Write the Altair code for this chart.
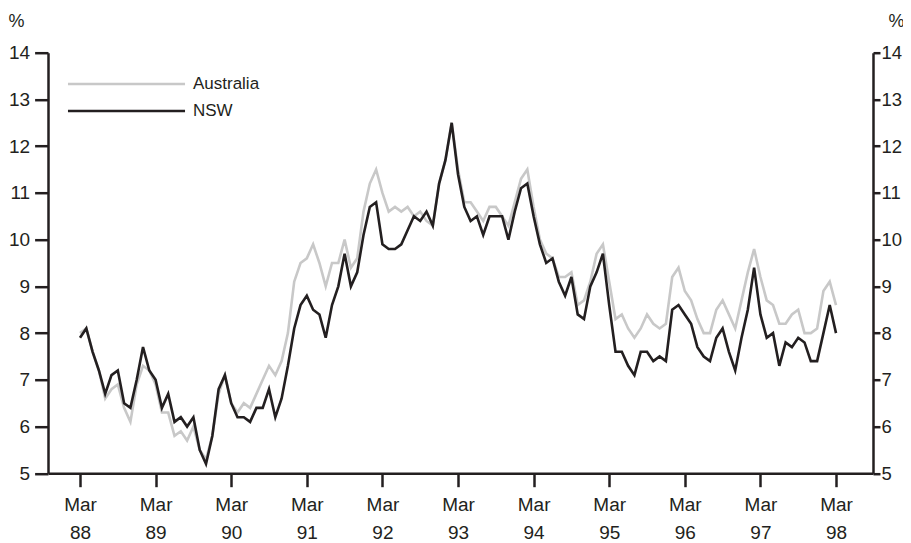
import altair as alt
import pandas as pd

# Monthly unemployment rate, Mar 1988 .. Mar 1998 (121 months)
months = list(range(121))
australia = [
    8.0, 8.1, 7.6, 7.2, 6.6, 6.8, 6.9, 6.4, 6.1, 6.9, 7.3, 7.2,
    6.9, 6.3, 6.3, 5.8, 5.9, 5.7, 6.0, 5.5, 5.3, 5.8, 6.7, 7.1,
    6.5, 6.3, 6.5, 6.4, 6.7, 7.0, 7.3, 7.1, 7.4, 8.0, 9.1, 9.5,
    9.6, 9.9, 9.5, 9.0, 9.5, 9.5, 10.0, 9.4, 9.6, 10.6, 11.2, 11.5,
    11.0, 10.6, 10.7, 10.6, 10.7, 10.5, 10.6, 10.4, 10.3, 11.2, 11.7, 12.5,
    11.5, 10.8, 10.8, 10.6, 10.4, 10.7, 10.7, 10.5, 10.3, 10.8, 11.3, 11.5,
    10.7, 10.0, 9.7, 9.6, 9.2, 9.2, 9.3, 8.6, 8.7, 9.1, 9.7, 9.9,
    9.1, 8.3, 8.4, 8.1, 7.9, 8.1, 8.4, 8.2, 8.1, 8.2, 9.2, 9.4,
    8.9, 8.7, 8.3, 8.0, 8.0, 8.5, 8.7, 8.4, 8.1, 8.7, 9.3, 9.8,
    9.2, 8.7, 8.6, 8.2, 8.2, 8.4, 8.5, 8.0, 8.0, 8.1, 8.9, 9.1,
    8.6,
]
nsw = [
    7.9, 8.1, 7.6, 7.2, 6.7, 7.1, 7.2, 6.5, 6.4, 7.0, 7.7, 7.2,
    7.0, 6.4, 6.7, 6.1, 6.2, 6.0, 6.2, 5.5, 5.2, 5.8, 6.8, 7.1,
    6.5, 6.2, 6.2, 6.1, 6.4, 6.4, 6.8, 6.2, 6.6, 7.3, 8.1, 8.6,
    8.8, 8.5, 8.4, 7.9, 8.6, 9.0, 9.7, 9.0, 9.3, 10.1, 10.7, 10.8,
    9.9, 9.8, 9.8, 9.9, 10.2, 10.5, 10.4, 10.6, 10.3, 11.2, 11.7, 12.5,
    11.4, 10.7, 10.4, 10.5, 10.1, 10.5, 10.5, 10.5, 10.0, 10.6, 11.1, 11.2,
    10.5, 9.9, 9.5, 9.6, 9.1, 8.8, 9.2, 8.4, 8.3, 9.0, 9.3, 9.7,
    8.6, 7.6, 7.6, 7.3, 7.1, 7.6, 7.6, 7.4, 7.5, 7.4, 8.5, 8.6,
    8.4, 8.2, 7.7, 7.5, 7.4, 7.9, 8.1, 7.6, 7.2, 7.9, 8.5, 9.4,
    8.4, 7.9, 8.0, 7.3, 7.8, 7.7, 7.9, 7.8, 7.4, 7.4, 8.0, 8.6,
    8.0,
]
series_names = ["Australia", "NSW"]
tick_months = [0, 12, 24, 36, 48, 60, 72, 84, 96, 108, 120]
y_ticks = [5, 6, 7, 8, 9, 10, 11, 12, 13, 14]

df = pd.DataFrame({
    "month": months * 2,
    "rate": australia + nsw,
    "series": [series_names[0]] * len(months) + [series_names[1]] * len(months),
})

INK = "#231f20"
GREY = "#c8c8c8"
FONT = "Liberation Sans"

xscale = alt.Scale(domain=[-5.08, 125.87], nice=False, zero=False)
yscale = alt.Scale(domain=[5, 14], nice=False, zero=False)

xaxis = alt.Axis(
    values=tick_months,
    labelExpr="['Mar', '' + (88 + datum.value / 12)]",
    title=None, grid=False,
    tickSize=13.4, tickWidth=2.5, tickColor=INK,
    domainColor=INK, domainWidth=2.5,
    labelFont=FONT, labelFontSize=19, labelColor=INK,
    labelPadding=9, labelLineHeight=28,
    labelFlush=False, labelOverlap=False,
)

def yaxis(orient, title_x, tick_size, label_pad, font_size):
    return alt.Axis(
        orient=orient, values=y_ticks, grid=False,
        tickSize=tick_size, tickWidth=2.5, tickColor=INK,
        domainColor=INK, domainWidth=2.5,
        labelFont=FONT, labelFontSize=font_size, labelColor=INK,
        labelPadding=label_pad,
        title="%", titleAngle=0, titleX=title_x, titleY=-31,
        titleAlign="center", titleBaseline="middle",
        titleFont=FONT, titleFontSize=18, titleFontWeight="normal", titleColor=INK,
    )

lines = alt.Chart(df).mark_line(strokeWidth=2.6, strokeJoin="miter").encode(
    x=alt.X("month:Q", scale=xscale, axis=xaxis),
    y=alt.Y("rate:Q", scale=yscale, axis=yaxis("left", -32, 13.4, 5, 19)),
    color=alt.Color(
        "series:N",
        scale=alt.Scale(domain=series_names, range=[GREY, INK]),
        legend=alt.Legend(
            title=None, orient="none", legendX=19, legendY=22.8, padding=0,
            symbolType="M-10,0H10", symbolSize=137, symbolStrokeWidth=2.5,
            symbolOffset=51, labelOffset=58, rowPadding=9,
            labelFont=FONT, labelFontSize=17, labelColor=INK,
        ),
    ),
)

right = alt.Chart(df).mark_point(opacity=0, size=1).encode(
    x=alt.X("month:Q", scale=xscale, axis=xaxis),
    y=alt.Y("rate:Q", scale=yscale, axis=yaxis("right", 23, 7, 1, 18.5)),
)

chart = alt.layer(lines, right).resolve_scale(y="independent").properties(
    width=825, height=420.6,
    autosize=alt.AutoSizeParams(type="none"),
    padding={"left": 40, "top": 44.7, "right": 30, "bottom": 70},
    view=alt.ViewBackground(strokeWidth=0, strokeOpacity=0, fillOpacity=0),
).configure_view(
    stroke="transparent", strokeWidth=0
).configure_axis(grid=False).configure(background="white")

chart.save("out.html", embed_options={"renderer": "svg", "actions": False})
